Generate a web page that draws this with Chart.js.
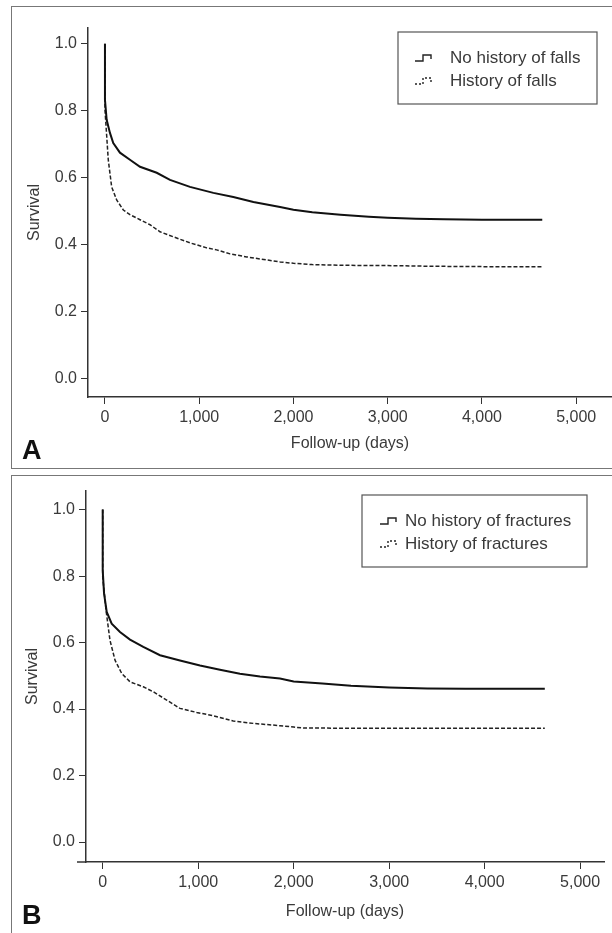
<!DOCTYPE html>
<html>
<head>
<meta charset="utf-8">
<script src="https://cdn.jsdelivr.net/npm/chart.js@4.4.0/dist/chart.umd.min.js"></script>
<style>
  body { margin: 0; width: 612px; height: 933px; overflow: hidden; background: #fff; position: relative; font-family: "Liberation Sans", Arial, sans-serif; }
  .panel { position: absolute; left: 11px; width: 640px; border: 1.5px solid #777; box-sizing: border-box; }
  #panelA { top: 6px; height: 463px; }
  #panelB { top: 475px; height: 500px; }
  .tag { position: absolute; left: 22px; font-weight: bold; font-size: 27px; color: #111; line-height: 1; }
  canvas { position: absolute; left: 0; }
</style>
</head>
<body>
<div class="panel" id="panelA"></div>
<div class="panel" id="panelB"></div>
<canvas id="chartA" width="612" height="470" style="top:0"></canvas>
<canvas id="chartB" width="612" height="463" style="top:470px"></canvas>
<div class="tag" style="top:437px">A</div>
<div class="tag" style="top:902px">B</div>
<script>
// panel A: history of falls
const daysA_noFalls = [0, 0, 18, 53, 88, 159, 265, 372, 549, 690, 902, 1150, 1362, 1575, 1858, 2000, 2200, 2500, 2800, 3000, 3300, 3600, 4000, 4640];
const survA_noFalls = [1.0, 0.833, 0.773, 0.734, 0.704, 0.675, 0.654, 0.633, 0.615, 0.594, 0.573, 0.555, 0.543, 0.528, 0.513, 0.505, 0.497, 0.49, 0.484, 0.481, 0.478, 0.476, 0.475, 0.475];
const daysA_falls = [0, 0, 35, 71, 124, 195, 265, 372, 478, 584, 725, 902, 1079, 1185, 1327, 1504, 1716, 1858, 2000, 2200, 2500, 3000, 3500, 4000, 4640];
const survA_falls = [1.0, 0.803, 0.654, 0.573, 0.534, 0.504, 0.49, 0.475, 0.46, 0.439, 0.424, 0.406, 0.391, 0.385, 0.373, 0.364, 0.355, 0.349, 0.345, 0.341, 0.339, 0.338, 0.336, 0.335, 0.335];

// panel B: history of fractures
const daysB_noFract = [0, 0, 14, 42, 94, 181, 286, 425, 600, 809, 1019, 1228, 1437, 1647, 1856, 2000, 2300, 2600, 3000, 3400, 3800, 4200, 4630];
const survB_noFract = [1.0, 0.818, 0.748, 0.692, 0.657, 0.632, 0.609, 0.587, 0.562, 0.546, 0.531, 0.518, 0.506, 0.498, 0.492, 0.483, 0.477, 0.47, 0.465, 0.462, 0.461, 0.461, 0.461];
const daysB_fract = [0, 0, 35, 76, 129, 199, 286, 425, 530, 670, 809, 984, 1158, 1367, 1577, 1856, 2000, 2100, 3000, 4630];
const survB_fract = [1.0, 0.797, 0.697, 0.607, 0.547, 0.507, 0.482, 0.467, 0.452, 0.427, 0.402, 0.39, 0.38, 0.364, 0.357, 0.35, 0.346, 0.343, 0.342, 0.342];

const xTicks = [0, 1000, 2000, 3000, 4000, 5000];
const yTicks = [0.0, 0.2, 0.4, 0.6, 0.8, 1.0];
const legendA = ["No history of falls", "History of falls"];
const legendB = ["No history of fractures", "History of fractures"];

const txtColor = "#3a3a3a";
const fontFam = '"Liberation Sans", Arial, sans-serif';

function toPoints(xs, ys) {
    return xs.map((x, i) => ({ x: x, y: ys[i] }));
}

// legend drawn by hand: box, small step symbol, text
const legendBox = {
    id: "legendBox",
    afterDraw(chart, args, opts) {
        const ctx = chart.ctx;
        ctx.save();
        ctx.strokeStyle = "#555";
        ctx.lineWidth = 1.2;
        ctx.strokeRect(opts.x, opts.y, opts.w, opts.h);
        opts.labels.forEach((txt, i) => {
            const cy = opts.y + 26 + i * 23;
            const sx = opts.symX;
            ctx.beginPath();
            ctx.setLineDash(i ? [2, 2] : []);
            ctx.lineWidth = 1.4;
            ctx.strokeStyle = "#222";
            ctx.moveTo(sx, cy + 3);
            ctx.lineTo(sx + 8, cy + 3);
            ctx.lineTo(sx + 8, cy - 3);
            ctx.lineTo(sx + 16, cy - 3);
            ctx.lineTo(sx + 16, cy + 1);
            ctx.stroke();
            ctx.setLineDash([]);
            ctx.fillStyle = txtColor;
            ctx.font = "17px " + fontFam;
            ctx.textBaseline = "middle";
            ctx.fillText(txt, opts.textX, cy);
        });
        // x axis line running a bit left of the y axis (panel B)
        if (opts.stub) {
            const a = chart.chartArea;
            ctx.beginPath();
            ctx.strokeStyle = "#333";
            ctx.lineWidth = 1.5;
            ctx.moveTo(a.left - opts.stub, a.bottom);
            ctx.lineTo(a.left, a.bottom);
            ctx.stroke();
        }
        ctx.restore();
    }
};

function makeChart(id, s) {
    return new Chart(document.getElementById(id), {
        type: "line",
        data: {
            datasets: [
                { data: toPoints(s.x1, s.y1), borderColor: "#111", borderWidth: 2, pointRadius: 0, tension: 0, fill: false },
                { data: toPoints(s.x2, s.y2), borderColor: "#222", borderWidth: 1.5, borderDash: [4, 2], pointRadius: 0, tension: 0, fill: false }
            ]
        },
        options: {
            responsive: false,
            animation: false,
            events: [],
            layout: { padding: { top: s.padTop, right: s.padRight, left: 0, bottom: 0 } },
            plugins: {
                legend: { display: false },
                tooltip: { enabled: false },
                legendBox: s.legend
            },
            scales: {
                x: {
                    type: "linear",
                    min: s.xMin, max: s.xMax,
                    afterBuildTicks: sc => { sc.ticks = xTicks.map(v => ({ value: v })); },
                    afterFit: sc => { sc.height = s.xH; },
                    grid: { drawOnChartArea: false, drawTicks: true, tickLength: 7, color: "#333", lineWidth: 1 },
                    border: { display: true, color: "#333", width: 1.5 },
                    ticks: { color: txtColor, padding: 4, maxRotation: 0, font: { family: fontFam, size: 16 }, callback: v => v.toLocaleString("en-US") },
                    title: { display: true, text: "Follow-up (days)", color: txtColor, font: { family: fontFam, size: 16, lineHeight: 1.2 }, padding: { top: 0, bottom: s.xTitlePad } }
                },
                y: {
                    min: s.yMin, max: s.yMax,
                    afterBuildTicks: sc => { sc.ticks = yTicks.map(v => ({ value: v })); },
                    afterFit: sc => { sc.width = s.yW; },
                    grid: { drawOnChartArea: false, drawTicks: true, tickLength: 7, color: "#333", lineWidth: 1 },
                    border: { display: true, color: "#333", width: 1.5 },
                    ticks: { color: txtColor, padding: 4, font: { family: fontFam, size: 16 }, callback: v => v.toFixed(1) },
                    title: { display: true, text: "Survival", color: txtColor, font: { family: fontFam, size: 16, lineHeight: 1.2 }, padding: { top: s.yTitlePad, bottom: 0 } }
                }
            }
        },
        plugins: [legendBox]
    });
}

makeChart("chartA", {
    x1: daysA_noFalls, y1: survA_noFalls, x2: daysA_falls, y2: survA_falls,
    xMin: -180, xMax: 5380, yMin: -0.054, yMax: 1.047,
    padTop: 28, padRight: 0, xH: 73, yW: 88, xTitlePad: 17, yTitlePad: 25,
    legend: { x: 398, y: 32, w: 199, h: 72, symX: 415, textX: 450, labels: legendA, stub: 0 }
});

makeChart("chartB", {
    x1: daysB_noFract, y1: survB_noFract, x2: daysB_fract, y2: survB_fract,
    xMin: -175, xMax: 5250, yMin: -0.06, yMax: 1.056,
    padTop: 21, padRight: 8, xH: 71, yW: 86, xTitlePad: 12, yTitlePad: 23,
    legend: { x: 362, y: 25, w: 225, h: 72, symX: 380, textX: 405, labels: legendB, stub: 9 }
});
</script>
</body>
</html>
